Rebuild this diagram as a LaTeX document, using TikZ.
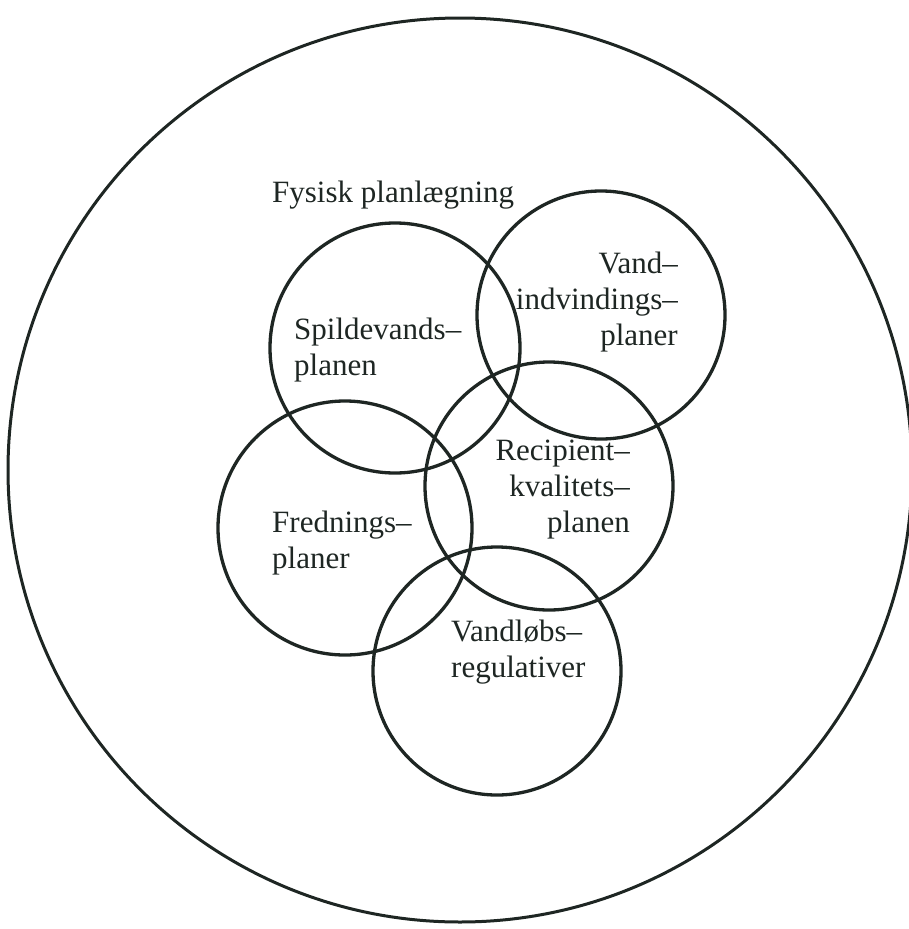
\documentclass[tikz,border=0pt]{standalone}
\usepackage{fontspec}
\setmainfont{Liberation Serif}
\definecolor{ink}{RGB}{30,38,35}
\begin{document}
\begin{tikzpicture}[x=1pt,y=-1pt,
  ring/.style={draw=ink,line width=3.3pt,circle,minimum size=250pt,inner sep=0pt},
  lbl/.style={text=ink,inner sep=0pt,font=\fontsize{31}{36}\selectfont}]
\useasboundingbox (0,0) rectangle (909,929);
\draw[draw=ink,line width=3pt] (460,470) circle (452);
\node[ring] (spild) at (395,348) {};
\node[ring,minimum size=248pt] (vand) at (601,315) {};
\node[ring,minimum size=248pt] (recip) at (549,486) {};
\node[ring,minimum size=254pt] (fred) at (345,528) {};
\node[ring,minimum size=248pt] (lob) at (497,671) {};
\node[lbl,anchor=base west] (fys) at (272,202) {Fysisk planlægning};
\node[lbl,anchor=base west,align=left] (tspild) at (294,375) {Spildevands--\\planen};
\node[lbl,anchor=base east,align=right] (tvand) at (678,345) {Vand--\\indvindings--\\planer};
\node[lbl,anchor=base east,align=right] (trecip) at (630,532) {Recipient--\\kvalitets--\\planen};
\node[lbl,anchor=base west,align=left] (tfred) at (272,568) {Frednings--\\planer};
\node[lbl,anchor=base west,align=left] (tlob) at (451,677) {Vandløbs--\\regulativer};
\end{tikzpicture}
\end{document}
